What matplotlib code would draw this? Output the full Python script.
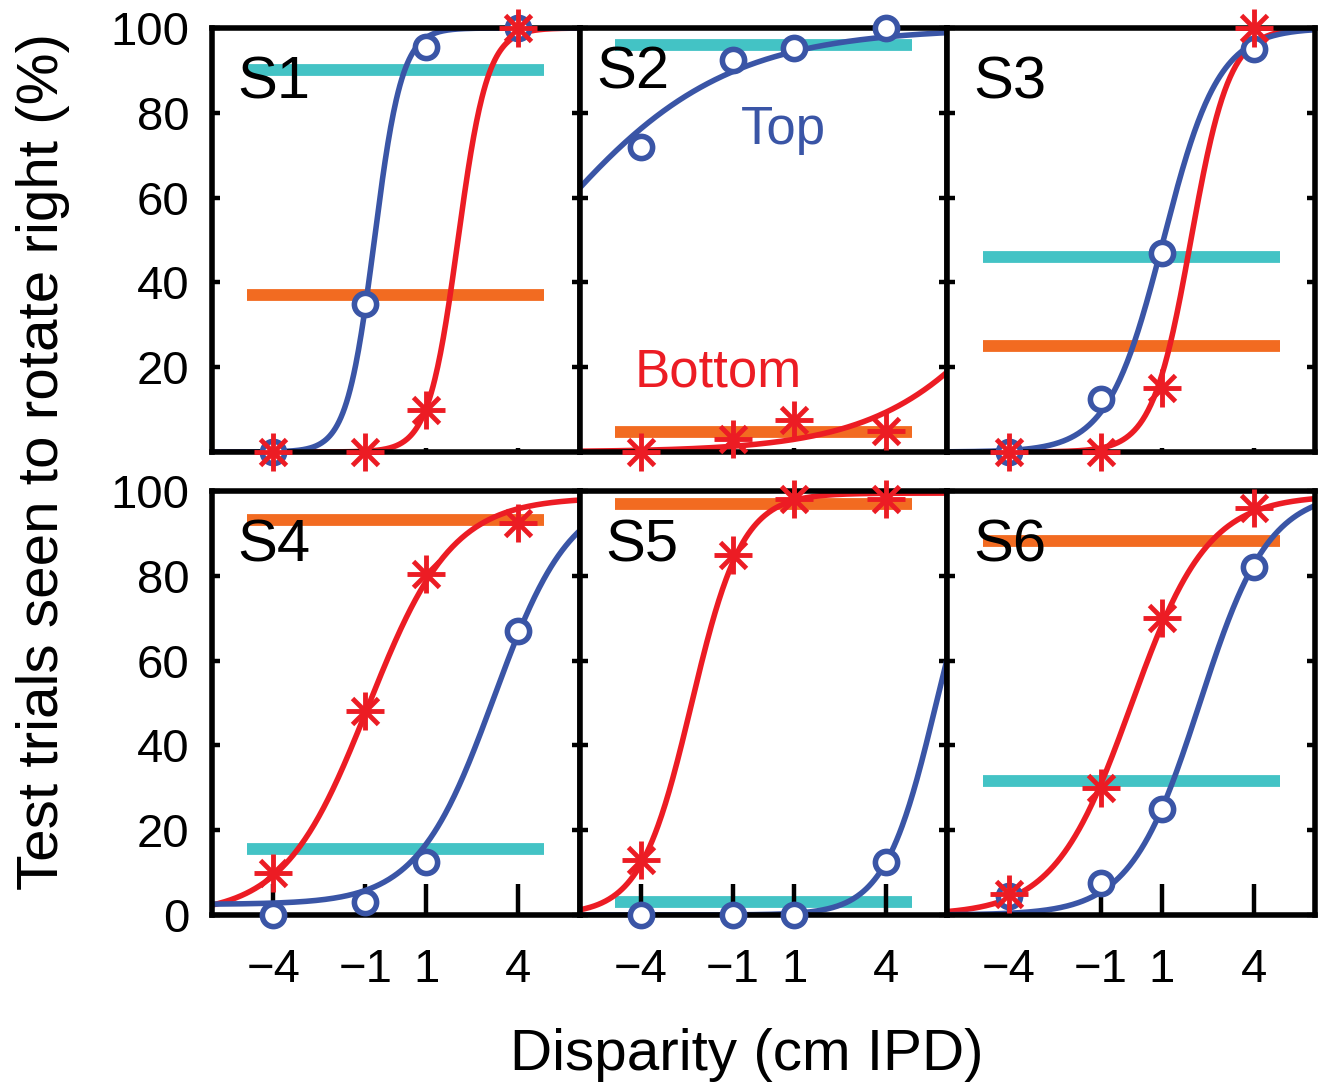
import numpy as np
import matplotlib
matplotlib.use("Agg")
import matplotlib.pyplot as plt

plt.rcParams['font.family'] = ['Liberation Sans', 'DejaVu Sans']

# disparities tested (cm IPD)
disparity = [-4, -1, 1, 4]
subjects = ['S1', 'S2', 'S3', 'S4', 'S5', 'S6']

# % seen to rotate right, test patch on top (blue) / bottom (red)
top_pct = [
    [0, 35, 95.5, 100],
    [72, 92.4, 95.2, 100],
    [0, 12.5, 47, 95],
    [0, 3, 12.5, 67],
    [0, 0, 0, 12.5],
    [4.5, 7.5, 25, 82],
]
bottom_pct = [
    [0, 0, 10, 100],
    [0, 3, 7.5, 5],
    [0, 0, 15, 100],
    [10, 48, 80.5, 92.5],
    [13, 85, 98, 98],
    [5, 30, 70, 96],
]

# fitted psychometric curves: midpoint, width, floor, ceiling
top_mu = [-0.7, -7.5, 1.05, 3.2, 5.64, 2.24]
top_sd = [0.45, 3.0, 0.9, 1.25, 0.84, 1.13]
top_floor = [0, 0, 0, 2.5, 0, 0]
top_ceil = [100, 100, 100, 100, 100, 100]
bot_mu = [2.03, 9.6, 1.95, -0.9, -2.35, 0.0]
bot_sd = [0.48, 2.47, 0.63, 1.37, 0.83, 1.25]
bot_floor = [0, 0, 0, 0, 0, 0]
bot_ceil = [100, 100, 100, 98.5, 99.5, 99]

# reference levels (horizontal bars)
cyan_level = [90, 96, 46, 15.5, 3, 31.5]
orange_level = [37, 4.7, 25, 93.2, 97, 88.2]
bar_extent = [-4.85, 4.85]

BLUE = '#3a55a6'
RED = '#ec1c24'
CYAN = '#43c3c5'
ORANGE = '#f26b21'


def psycho(x, mu, sd, lo, hi):
    return lo + (hi - lo) / (1 + np.exp(-(x - mu) / sd))


fig, axes = plt.subplots(2, 3, figsize=(13.33, 10.89), dpi=100)
plt.subplots_adjust(left=0.159, right=0.9865, top=0.9743, bottom=0.1598,
                    wspace=0, hspace=0.092)

xx = np.linspace(-6, 6, 400)
for i, ax in enumerate(axes.flat):
    row, col = divmod(i, 3)

    ax.plot(bar_extent, [cyan_level[i]] * 2, color=CYAN, lw=8.5, solid_capstyle='butt', zorder=1)
    ax.plot(bar_extent, [orange_level[i]] * 2, color=ORANGE, lw=8.5, solid_capstyle='butt', zorder=1)

    ax.plot(xx, psycho(xx, bot_mu[i], bot_sd[i], bot_floor[i], bot_ceil[i]),
            color=RED, lw=4, zorder=2)
    ax.plot(xx, psycho(xx, top_mu[i], top_sd[i], top_floor[i], top_ceil[i]),
            color=BLUE, lw=4, zorder=3)

    ax.plot(disparity, top_pct[i], 'o', ms=16, mfc='white', mec=BLUE, mew=4,
            clip_on=False, zorder=5)
    ax.plot(disparity, bottom_pct[i], '+', ms=28, mec=RED, mew=3.5,
            clip_on=False, zorder=6)
    ax.plot(disparity, bottom_pct[i], 'x', ms=19, mec=RED, mew=3.5,
            clip_on=False, zorder=6)

    ax.text(0.07 if i != 1 else 0.045, 0.87 if i != 1 else 0.895, subjects[i],
            transform=ax.transAxes, fontsize=43, ha='left', va='center', zorder=7)

    ax.set_xlim(-6, 6)
    ax.set_ylim(0, 100)
    ax.set_xticks(disparity)
    if row == 0:
        ax.set_yticks([20, 40, 60, 80, 100])
        ax.tick_params(axis='x', length=3, labelbottom=False)
    else:
        ax.set_yticks([0, 20, 40, 60, 80, 100])
        ax.set_xticklabels(['\u22124', '\u22121', '1', '4'])
        ax.tick_params(axis='x', length=22, pad=24)
    ax.tick_params(direction='in', width=3.2, labelsize=34)
    ax.tick_params(axis='y', length=6, right=True, pad=16)
    if col > 0:
        ax.tick_params(axis='y', labelleft=False)
    for sp in ax.spines.values():
        sp.set_linewidth(4)
        sp.set_zorder(4)

axes[0, 1].text(0.66, 76, 'Top', color=BLUE, fontsize=38, ha='center', va='center')
axes[0, 1].text(-1.48, 18.7, 'Bottom', color=RED, fontsize=38, ha='center', va='center')

fig.text(0.560, 0.031, 'Disparity (cm IPD)', fontsize=42, ha='center', va='center')
fig.text(0.032, 0.576, 'Test trials seen to rotate right (%)', fontsize=42,
         rotation=90, ha='center', va='center')

fig.savefig('out.png', dpi=100)
